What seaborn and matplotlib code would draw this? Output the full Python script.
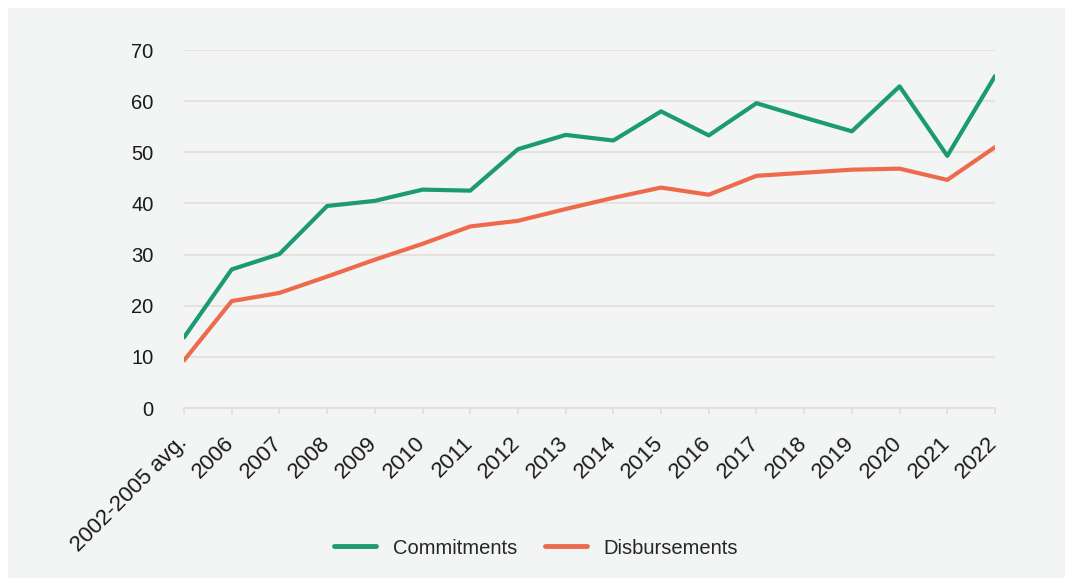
import matplotlib
matplotlib.use("Agg")
import matplotlib.pyplot as plt
import matplotlib.transforms as mtransforms
from matplotlib.patches import Rectangle
import seaborn as sns
import pandas as pd

periods = ["2002-2005 avg.", "2006", "2007", "2008", "2009", "2010", "2011",
           "2012", "2013", "2014", "2015", "2016", "2017", "2018", "2019",
           "2020", "2021", "2022"]
commitments = [13.8, 27.1, 30.1, 39.5, 40.5, 42.7, 42.5, 50.6, 53.4, 52.3,
               58.0, 53.3, 59.6, 56.8, 54.1, 62.9, 49.3, 64.9]
disbursements = [9.3, 20.9, 22.5, 25.7, 29.0, 32.1, 35.5, 36.6, 38.9, 41.1,
                 43.1, 41.7, 45.4, 46.0, 46.6, 46.8, 44.6, 51.0]
series_names = ["Commitments", "Disbursements"]
y_ticks = [0, 10, 20, 30, 40, 50, 60, 70]

GREEN = "#1b9a73"
ORANGE = "#ee6a4c"
PANEL = "#f2f5f4"
GRID = "#e4ddd6"
TEXT = "#1a1a1a"
FS = 14.5

sns.set_theme(style="white")
plt.rcParams["font.family"] = ["Liberation Sans", "DejaVu Sans"]

df = pd.DataFrame({
    "period": periods * 2,
    "value": commitments + disbursements,
    "series": [series_names[0]] * len(periods) + [series_names[1]] * len(periods),
})

W, H = 1065, 578
fig = plt.figure(figsize=(W / 100, H / 100), dpi=100)
fig.patch.set_facecolor("white")
fig.patches.append(Rectangle((8 / W, 0), 1 - 8 / W, 1 - 8 / H,
                             transform=fig.transFigure, facecolor=PANEL,
                             edgecolor="none", zorder=-10))

left, right, top, bottom = 184, 995, 50, 408
ax = fig.add_axes([left / W, 1 - bottom / H, (right - left) / W, (bottom - top) / H])
ax.set_facecolor("none")

sns.lineplot(data=df, x="period", y="value", hue="series", sort=False,
             palette=[GREEN, ORANGE], linewidth=3, ax=ax, legend=True)

ax.set_xlim(0, len(periods) - 1)
ax.set_ylim(0, 70)
ax.set_yticks(y_ticks)
ax.set_xticks(range(len(periods)))
ax.set_xticklabels(periods, rotation=45, ha="right", rotation_mode="anchor")
ax.set_xlabel("")
ax.set_ylabel("")

for s in ["top", "right", "left"]:
    ax.spines[s].set_visible(False)
ax.spines["bottom"].set_color(GRID)
ax.spines["bottom"].set_linewidth(1.2)
ax.spines["bottom"].set_zorder(0)

ax.yaxis.grid(True, color=GRID, linewidth=1.2)
ax.set_axisbelow(True)
ax.tick_params(axis="x", which="major", bottom=True, length=4, width=1.2,
               color=GRID, pad=7, labelsize=16, labelcolor=TEXT)
ax.tick_params(axis="y", left=False, pad=16, labelsize=FS, labelcolor=TEXT)

# nudge the slanted period labels down and to the left of their ticks
shift = mtransforms.ScaledTranslation(-8 / 100, -9 / 100, fig.dpi_scale_trans)
for lbl in ax.get_xticklabels():
    lbl.set_transform(lbl.get_transform() + shift)

leg = ax.legend(loc="center", bbox_to_anchor=(536 / W, 1 - 548 / H),
                bbox_transform=fig.transFigure, ncol=2, frameon=False,
                fontsize=FS, handlelength=2.1, columnspacing=1.4,
                handletextpad=0.8)
for line in leg.get_lines():
    line.set_linewidth(3.5)

fig.savefig("out.png", dpi=100, facecolor=fig.get_facecolor())
